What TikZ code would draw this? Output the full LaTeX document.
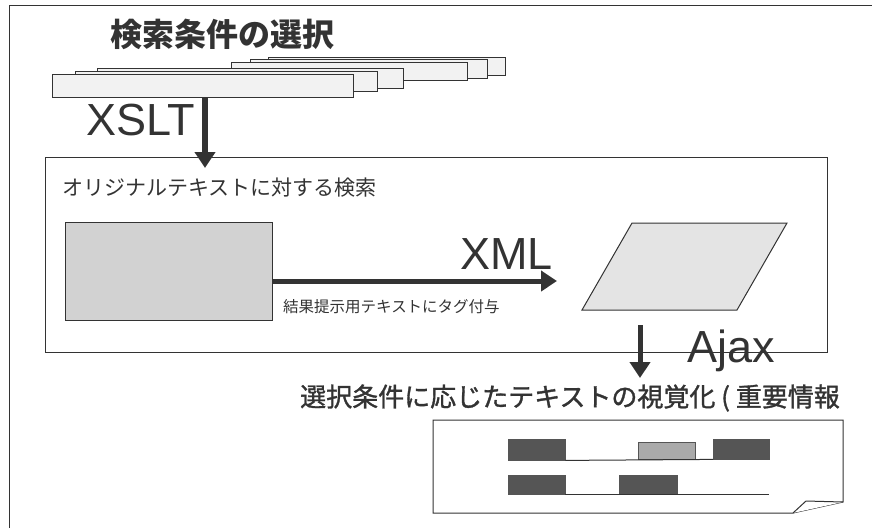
\documentclass[tikz,border=0pt]{standalone}
\usepackage{fontspec}
\setmainfont{Liberation Sans}
\newfontfamily\jp{Noto Sans CJK JP}
\newfontfamily\jpmed[FakeBold=1.3]{Noto Sans CJK JP}
\usetikzlibrary{arrows.meta}
\definecolor{ink}{HTML}{333333}
\definecolor{cardfill}{HTML}{F2F2F2}
\definecolor{srcfill}{HTML}{D2D2D2}
\definecolor{xmlfill}{HTML}{E4E4E4}
\definecolor{darkblk}{HTML}{555555}
\definecolor{midblk}{HTML}{AAAAAA}
\tikzset{
  card/.style={draw=ink, fill=cardfill, line width=1pt, inner sep=0pt, anchor=north west},
  frame/.style={draw=ink, line width=1pt, inner sep=0pt, anchor=north west},
  blk/.style={fill=darkblk, draw=darkblk, inner sep=0pt, anchor=north west},
  bigarrow/.style={draw=ink, fill=ink, line width=6pt, -{Triangle[length=16pt,width=20pt]}},
  latin/.style={font=\fontsize{45}{45}\selectfont, text=ink, inner sep=0pt},
}
\begin{document}
\begin{tikzpicture}[x=1pt,y=-1pt]
\useasboundingbox (0,0) rectangle (872,528);
% outer frame
\draw[ink, line width=1pt] (9,528) -- (9,5) -- (872,5);
% title
\node[font=\jp\bfseries\fontsize{32}{32}\selectfont, text=ink, anchor=west, inner sep=0pt] (title) at (110,34) {検索条件の選択};
% stacked cards (back to front)
\node[card, minimum width=237pt, minimum height=18pt] (cardF) at (268,57) {};
\node[card, minimum width=237pt, minimum height=19pt] (cardE) at (250,59) {};
\node[card, minimum width=236pt, minimum height=18pt] (cardD) at (231,62) {};
\node[card, minimum width=306pt, minimum height=20pt] (cardC) at (97,68) {};
\node[card, minimum width=302pt, minimum height=20pt] (cardB) at (75,71) {};
\node[card, minimum width=301pt, minimum height=23pt] (cardA) at (52,74) {};
% XSLT
\node[latin, anchor=north west] (xslt) at (86,104) {XSLT};
% search box
\node[frame, minimum width=782pt, minimum height=195pt] (search) at (45,157) {};
\node[font=\jp\fontsize{21}{21}\selectfont, text=ink, anchor=west, inner sep=0pt] (searchlbl) at (62,188) {オリジナルテキストに対する検索};
\coordinate (xsltend) at (205,168);
\draw[bigarrow] (cardA.south -| xsltend) -- (xsltend);
% source text
\node[frame, fill=srcfill, minimum width=207pt, minimum height=98pt] (src) at (65,222) {};
% parallelogram (XML)
\draw[ink, line width=1pt, fill=xmlfill] (632,223) -- (787,223) -- (737,310) -- (582,310) -- cycle;
\coordinate (xmlin) at (557,281);
\coordinate (xmlbot) at (640,325);
\draw[bigarrow, line width=5pt] (src.east |- xmlin) -- (xmlin);
\node[latin, anchor=south east] (xml) at (553,270) {XML};
\node[font=\jp\fontsize{15.5}{15.5}\selectfont, text=ink, anchor=west, inner sep=0pt] (tag) at (283,307) {結果提示用テキストにタグ付与};
% Ajax arrow
\coordinate (ajaxend) at (640,378);
\draw[bigarrow, line width=5pt] (xmlbot) -- (ajaxend);
\node[latin, anchor=south west] (ajax) at (687,372) {Ajax};
% visualisation
\node[font=\jpmed\fontsize{26}{26}\selectfont, text=ink, anchor=west, inner sep=0pt] (vislbl) at (300,398) {選択条件に応じたテキストの視覚化 ( 重要情報};
\draw[ink, line width=1pt, fill=white] (433,420) -- (843,420) -- (843,502) -- (793,513) -- (433,513) -- cycle;
\draw[ink, line width=1pt, fill=white] (793,513) -- (806,501) -- (843,502);
% text lines in document
\node[blk, minimum width=57pt, minimum height=21pt] (b1) at (508,439) {};
\node[blk, fill=midblk, minimum width=57pt, minimum height=17pt] (b2) at (638,442) {};
\node[blk, minimum width=56pt, minimum height=20pt] (b3) at (713,439) {};
\node[blk, minimum width=57pt, minimum height=19pt] (b4) at (508,475) {};
\node[blk, minimum width=58pt, minimum height=19pt] (b5) at (619,475) {};
\draw[ink, line width=1pt] (b1.south east) -- (b3.south west);
\draw[ink, line width=1pt] (b4.south east) -- (b3.south east |- b4.south);
\end{tikzpicture}
\end{document}
